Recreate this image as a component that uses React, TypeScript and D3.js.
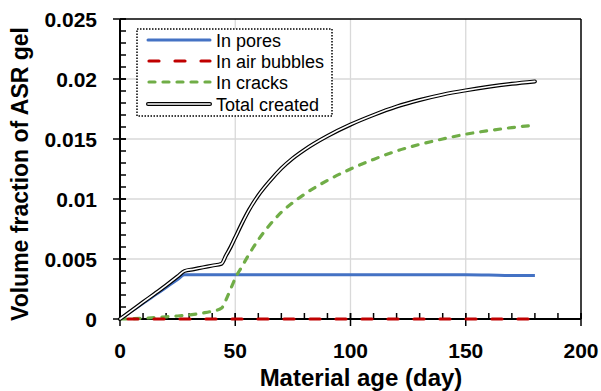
import React from 'react';
import * as d3 from 'd3';

// material age (day)
const days = [0, 5, 10, 15, 20, 25, 28, 32, 36, 40, 44, 46, 48, 50, 53, 56, 60, 65, 70, 75, 80, 90, 100, 110, 120, 130, 140, 150, 160, 170, 180];

// volume fractions, x 0.001
const inPores = [0, 0.66, 1.31, 1.97, 2.63, 3.29, 3.68, 3.68, 3.68, 3.68, 3.68, 3.68, 3.68, 3.68, 3.68, 3.68, 3.68, 3.68, 3.68, 3.68, 3.68, 3.68, 3.68, 3.68, 3.68, 3.68, 3.68, 3.68, 3.66, 3.62, 3.62];
const inAirBubbles = [0, 0, 0, 0, 0, 0, 0, 0, 0, 0, 0, 0, 0, 0, 0, 0, 0, 0, 0, 0, 0, 0, 0, 0, 0, 0, 0, 0, 0, 0, 0];
const inCracks = [0, 0.02, 0.06, 0.12, 0.18, 0.25, 0.3, 0.38, 0.5, 0.65, 0.9, 1.6, 2.5, 3.4, 4.4, 5.4, 6.6, 7.85, 8.9, 9.7, 10.4, 11.55, 12.5, 13.3, 14.0, 14.55, 15.0, 15.4, 15.7, 15.95, 16.15];
const totalCreated = [0, 0.7, 1.4, 2.1, 2.8, 3.55, 4.0, 4.15, 4.3, 4.45, 4.6, 5.3, 6.0, 6.8, 8.0, 9.1, 10.3, 11.5, 12.55, 13.4, 14.1, 15.25, 16.2, 17.0, 17.7, 18.25, 18.7, 19.05, 19.35, 19.6, 19.8];

const xTicks = [0, 50, 100, 150, 200];
const yTicks = [0, 0.005, 0.01, 0.015, 0.02, 0.025];
const legendLabels = ['In pores', 'In air bubbles', 'In cracks', 'Total created'];

const W = 601;
const H = 391;
const FONT = '"Liberation Sans", Arial, sans-serif';

export default function App() {
    const x = d3.scaleLinear().domain([0, 200]).range([120, 581]);
    const y = d3.scaleLinear().domain([0, 0.025]).range([319, 19]);

    const toPts = (vals: number[]) => days.map((d, i) => [d, vals[i] / 1000] as [number, number]);
    const line = d3.line<[number, number]>()
        .x(d => x(d[0]))
        .y(d => y(d[1]))
        .curve(d3.curveMonotoneX);

    const xMinor = d3.range(0, 201, 10);
    const yMinor = d3.range(0, 26, 1).map(v => v / 1000);

    const legendY = [40, 61, 82, 104];

    return (
        <svg width={W} height={H} style={{ position: 'absolute', left: 0, top: 0, background: '#fff' }}>
            {/* gridlines */}
            {xTicks.slice(1, -1).map(t => (
                <line key={'gx' + t} x1={x(t)} x2={x(t)} y1={y(0)} y2={y(0.025)} stroke="#d9d9d9" strokeWidth={1.3} />
            ))}
            {yTicks.slice(1, -1).map(t => (
                <line key={'gy' + t} x1={x(0)} x2={x(200)} y1={y(t)} y2={y(t)} stroke="#d9d9d9" strokeWidth={1.3} />
            ))}

            {/* frame */}
            <line x1={x(0)} x2={x(200)} y1={y(0.025)} y2={y(0.025)} stroke="#000" strokeWidth={1.5} />
            <line x1={x(200)} x2={x(200)} y1={y(0)} y2={y(0.025)} stroke="#000" strokeWidth={1.5} />
            <line x1={x(0)} x2={x(0)} y1={y(0)} y2={y(0.025)} stroke="#000" strokeWidth={2} />
            <line x1={x(0)} x2={x(200)} y1={y(0)} y2={y(0)} stroke="#000" strokeWidth={2} />

            {/* minor ticks */}
            {xMinor.map(t => (
                <line key={'mx' + t} x1={x(t)} x2={x(t)} y1={y(0)} y2={y(0) - 6} stroke="#000" strokeWidth={1.5} />
            ))}
            {yMinor.map(t => (
                <line key={'my' + t} x1={x(0)} x2={x(0) + 6} y1={y(t)} y2={y(t)} stroke="#000" strokeWidth={1.5} />
            ))}

            {/* major ticks */}
            {xTicks.map(t => (
                <line key={'tx' + t} x1={x(t)} x2={x(t)} y1={y(0) - 6} y2={y(0) + 7} stroke="#000" strokeWidth={1.5} />
            ))}
            {yTicks.map(t => (
                <line key={'ty' + t} x1={x(0) - 7} x2={x(0) + 6} y1={y(t)} y2={y(t)} stroke="#000" strokeWidth={1.5} />
            ))}

            {/* tick labels */}
            {xTicks.map(t => (
                <text key={'lx' + t} x={x(t)} y={358} textAnchor="middle" fontFamily={FONT} fontWeight="bold" fontSize={21} fill="#000">
                    {t}
                </text>
            ))}
            {yTicks.map(t => (
                <text key={'ly' + t} x={97} y={y(t) + 7.5} textAnchor="end" fontFamily={FONT} fontWeight="bold" fontSize={21} fill="#000">
                    {t === 0 ? '0' : String(t)}
                </text>
            ))}

            {/* axis titles */}
            <text x={361} y={386} textAnchor="middle" fontFamily={FONT} fontWeight="bold" fontSize={24} fill="#000">
                Material age (day)
            </text>
            <text transform="translate(28,174) rotate(-90)" textAnchor="middle" fontFamily={FONT} fontWeight="bold" fontSize={23} fill="#000">
                Volume fraction of ASR gel
            </text>

            {/* series */}
            <path d={line(toPts(inPores)) ?? ''} fill="none" stroke="#4472c4" strokeWidth={3} />
            <path d={line(toPts(inCracks)) ?? ''} fill="none" stroke="#70ad47" strokeWidth={3.2} strokeDasharray="6,8" strokeLinecap="round" />
            <path d={line(toPts(totalCreated)) ?? ''} fill="none" stroke="#000" strokeWidth={4} strokeLinecap="round" strokeLinejoin="round" />
            <path d={line(toPts(totalCreated)) ?? ''} fill="none" stroke="#fff" strokeWidth={1.6} strokeLinecap="round" strokeLinejoin="round" />
            <path d={line(toPts(inAirBubbles)) ?? ''} fill="none" stroke="#c00000" strokeWidth={3.2} strokeDasharray="10,16" strokeDashoffset={-8} strokeLinecap="round" />

            {/* legend */}
            <rect x={137} y={29} width={195} height={87} fill="#fff" stroke="#000" strokeWidth={1.5} strokeDasharray="1.5,1.5" />
            <line x1={148} x2={210} y1={legendY[0]} y2={legendY[0]} stroke="#4472c4" strokeWidth={3} strokeLinecap="round" />
            <line x1={149} x2={210} y1={legendY[1]} y2={legendY[1]} stroke="#c00000" strokeWidth={3.2} strokeDasharray="10,16" strokeLinecap="round" />
            <line x1={149} x2={210} y1={legendY[2]} y2={legendY[2]} stroke="#70ad47" strokeWidth={3.2} strokeDasharray="6,8" strokeLinecap="round" />
            <line x1={148} x2={210} y1={legendY[3]} y2={legendY[3]} stroke="#000" strokeWidth={4} strokeLinecap="round" />
            <line x1={148} x2={210} y1={legendY[3]} y2={legendY[3]} stroke="#fff" strokeWidth={1.6} strokeLinecap="round" />
            {legendLabels.map((l, i) => (
                <text key={l} x={216} y={legendY[i] + 6.5} fontFamily={FONT} fontSize={18} fill="#000">
                    {l}
                </text>
            ))}
        </svg>
    );
}
